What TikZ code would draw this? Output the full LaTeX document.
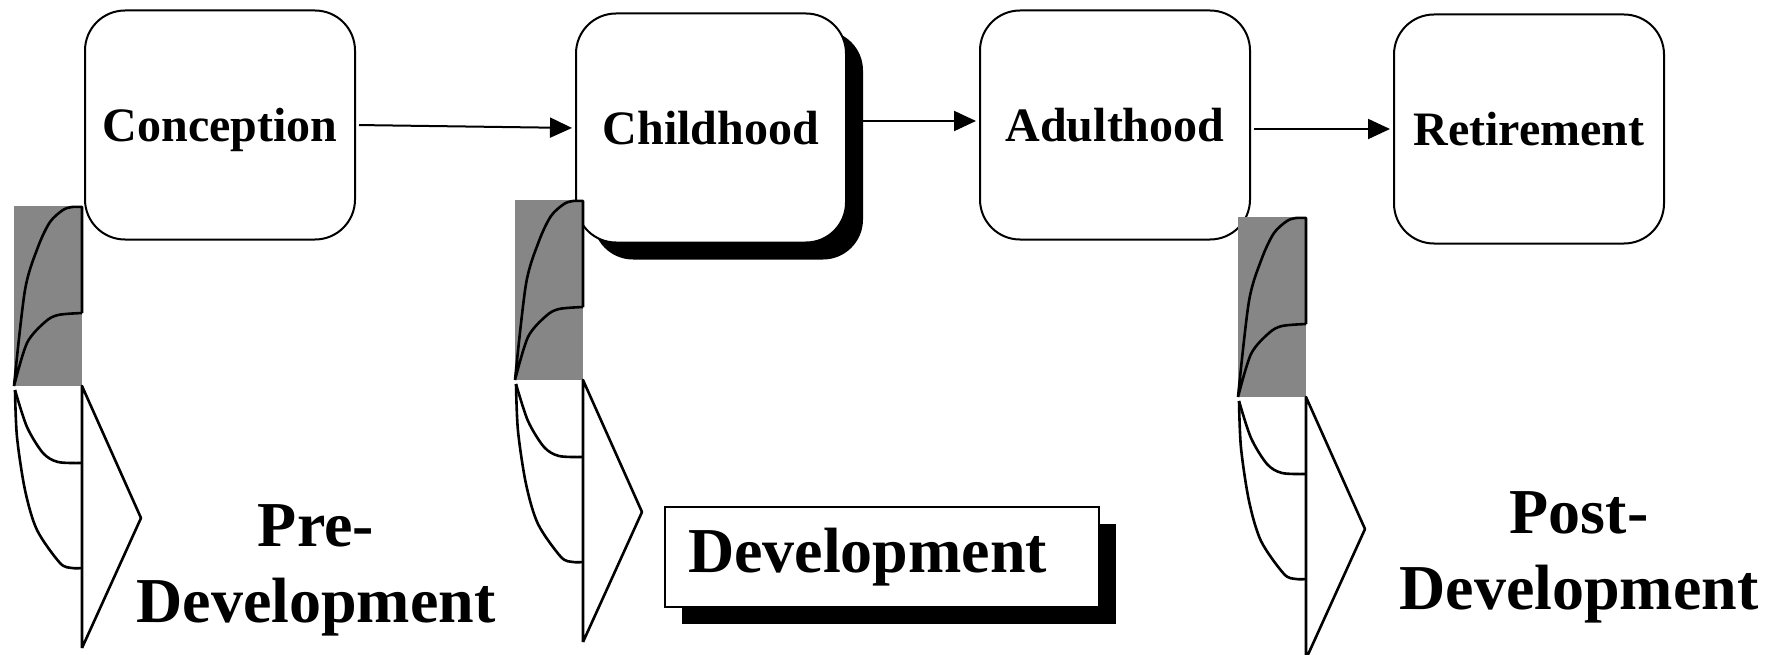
\documentclass[tikz,border=0pt]{standalone}
\usepackage{fontspec}
\setmainfont{Liberation Serif}
\usetikzlibrary{arrows.meta,shadows}
\definecolor{hatch}{RGB}{134,134,134}
\begin{document}
\begin{tikzpicture}[x=1pt,y=-1pt,
  stage/.style={draw, line width=2pt, rounded corners=40pt, fill=white,
    minimum width=270pt, minimum height=229pt, inner sep=0pt, text depth=0pt,
    font=\fontsize{48}{56}\selectfont\bfseries},
  flow/.style={line width=2pt, shorten <=3pt, shorten >=3pt,
    -{Triangle[length=22pt,width=20pt]}},
  shadowed/.style={drop shadow={shadow xshift=17pt, shadow yshift=-17pt,
    fill=black, opacity=1}},
  big/.style={font=\fontsize{64}{76}\selectfont\bfseries, align=center, inner sep=0pt},
  glyph/.pic={
    \fill[hatch] (0,0) rectangle (68,-180);
    \draw[line width=2.6pt, line join=round]
      plot[smooth] coordinates {(0,0) (11,-96) (24,-139) (36,-164) (49,-176) (58,-179) (68,-179)}
      -- (68,-73)
      plot[smooth] coordinates {(68,-73) (44,-71) (31,-64) (13,-43) (0,0)};
    \draw[line width=2.6pt, line join=round]
      plot[smooth] coordinates {(1,4) (3,51) (11,104) (23,144) (46,177) (58,182) (68,182)};
    \draw[line width=2.6pt, line join=round]
      plot[smooth] coordinates {(1,4) (13,41) (29,67) (44,76) (68,77)};
    \draw[line width=2.6pt, line join=round] (68,262) -- (68,0) -- (127,132) -- (68,262);
  }
]
\useasboundingbox (0,0) rectangle (1780,655);

\node[stage] (conc) at (220,125) {Conception};
\node[stage, shadowed] (child) at (711,128) {Childhood};
\node[stage] (adult) at (1115,125) {Adulthood};
\node[stage] (retire) at (1529,129) {Retirement};

\coordinate (childsh) at (863,121);
\draw[flow] (conc.east) -- (child.west);
\draw[flow, shorten <=0pt] (childsh) -- (adult.west |- childsh);
\draw[flow] (adult.east |- retire.west) -- (retire.west);

\pic at (14,386) {glyph};
\pic at (515,380) {glyph};
\pic at (1238,397) {glyph};

\node[big] (pre) at (316,570) {Pre-\\Development};
\node[big] (post) at (1579,557) {Post-\\Development};

\node[draw, line width=2pt, fill=white, shadowed, minimum height=100pt,
  text width=388pt, inner xsep=23pt, inner ysep=0pt, align=left,
  font=\fontsize{64}{67}\selectfont\bfseries] (dev) at (882,557) {Development};
\end{tikzpicture}
\end{document}
